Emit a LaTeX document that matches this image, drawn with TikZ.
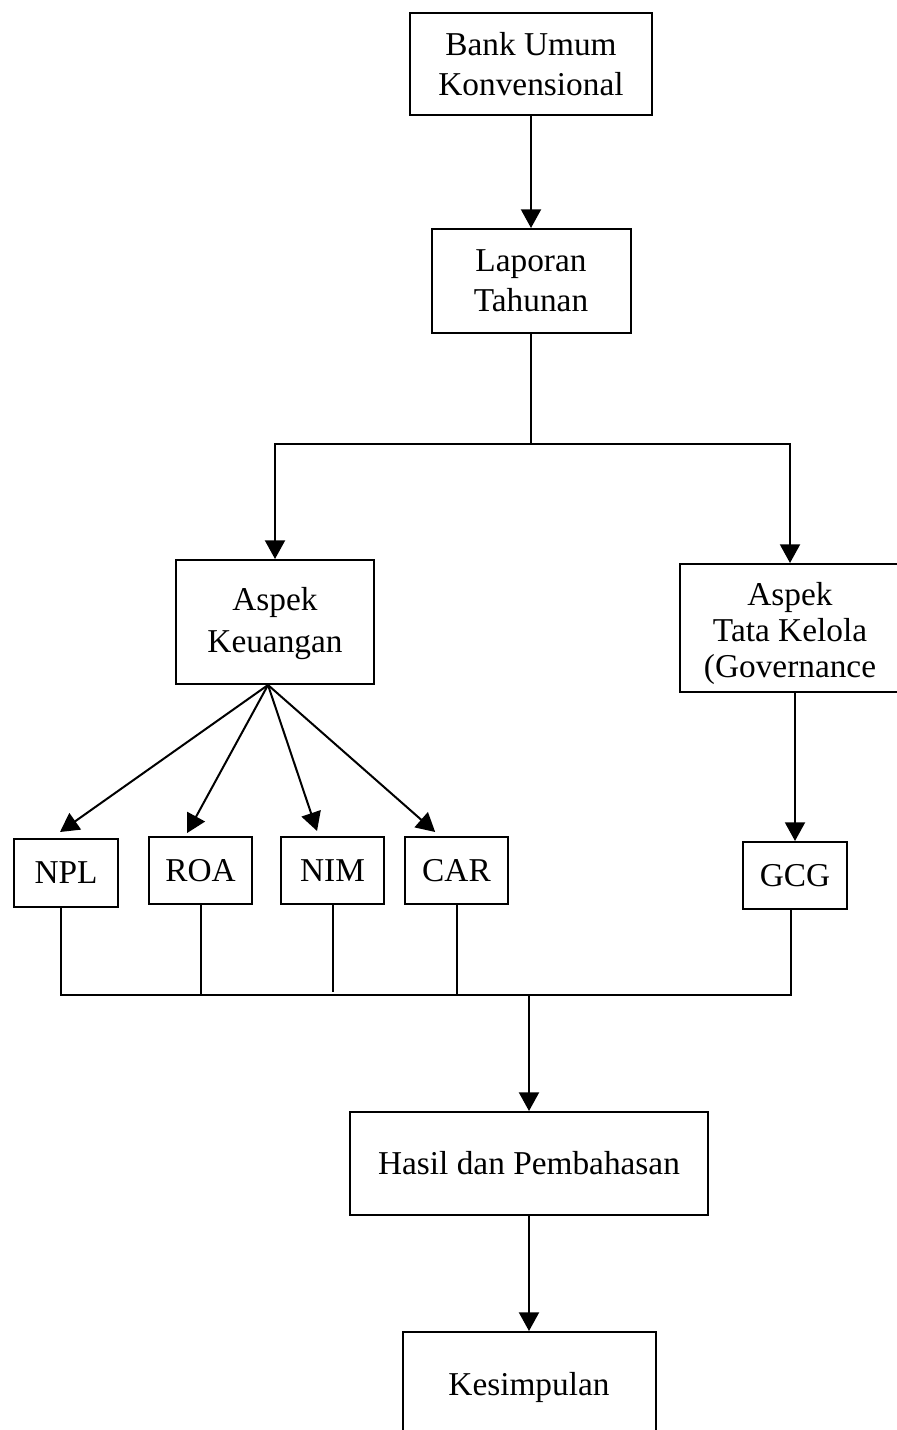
\documentclass[tikz,border=0pt]{standalone}
\usepackage{fontspec}
\setmainfont{Liberation Serif}
\usetikzlibrary{arrows.meta}

\begin{document}
\begin{tikzpicture}[x=0.75pt, y=-0.75pt, font=\fontsize{25}{30}\selectfont, line width=1.5pt,
  box/.style={draw, line width=1.5pt, align=center, inner sep=0pt},
  arr/.style={-{Triangle[length=14pt,width=15pt]}}]
\fill[white] (0,0) rectangle (896,1430);
\useasboundingbox (0,0) rectangle (896,1430);
\node[box, minimum width=181.5pt, minimum height=76.5pt] (bank) at (531,64) {Bank Umum\\Konvensional};
\node[box, minimum width=149.25pt, minimum height=78pt] (laporan) at (531,281) {Laporan\\Tahunan};
\coordinate (split) at (531,444);
\node[box, minimum width=148.5pt, text height=69pt, text depth=24pt, font=\fontsize{25}{31.5}\selectfont] (keuangan) at (275,622) {Aspek\\Keuangan};
\node[box, minimum width=165pt, text height=84.75pt, text depth=11.25pt, font=\fontsize{25}{27}\selectfont] (tata) at (790,628) {Aspek\\Tata Kelola\\(Governance};
\node[box, minimum width=78pt, minimum height=51pt] (npl) at (66,873) {NPL};
\node[box, minimum width=77.25pt, minimum height=50.25pt] (roa) at (200.5,870.5) {ROA};
\node[box, minimum width=77.25pt, minimum height=50.25pt] (nim) at (332.5,870.5) {NIM};
\node[box, minimum width=77.25pt, minimum height=50.25pt] (car) at (456.5,870.5) {CAR};
\node[box, minimum width=78pt, minimum height=50.25pt] (gcg) at (795,875.5) {GCG};
\coordinate (join) at (529,995);
\node[box, minimum width=268.5pt, minimum height=77.25pt] (hasil) at (529,1163.5) {Hasil dan Pembahasan};
\node[box, minimum width=189.75pt, minimum height=82.5pt] (kesim) at (529,1387) {Kesimpulan};

\draw[arr] (bank) -- (laporan);
\draw (laporan) -- (split);
\draw[arr] (split) -| (keuangan);
\draw[arr] (split) -| (tata);
\draw[arr] ([xshift=-5.25pt]keuangan.south) -- ([xshift=-4.5pt,yshift=4.5pt]npl.north);
\draw[arr] ([xshift=-5.25pt]keuangan.south) -- ([xshift=-10pt,yshift=2.25pt]roa.north);
\draw[arr] ([xshift=-5.25pt]keuangan.south) -- ([xshift=-11.6pt,yshift=3.75pt]nim.north);
\draw[arr] ([xshift=-5.25pt]keuangan.south) -- ([xshift=-16pt,yshift=3pt]car.north);
\draw[arr] (gcg.north |- tata.south) -- (gcg);
\draw ([xshift=-3.75pt]npl.south) |- (join);
\draw ([xshift=-3pt]gcg.south) |- (join);
\draw (roa) -- (roa |- join);
\draw (nim) -- ([yshift=2.25pt]nim |- join);
\draw (car) -- (car |- join);
\draw[arr] (join) -- (hasil);
\draw[arr] (hasil) -- (kesim);
\end{tikzpicture}
\end{document}
